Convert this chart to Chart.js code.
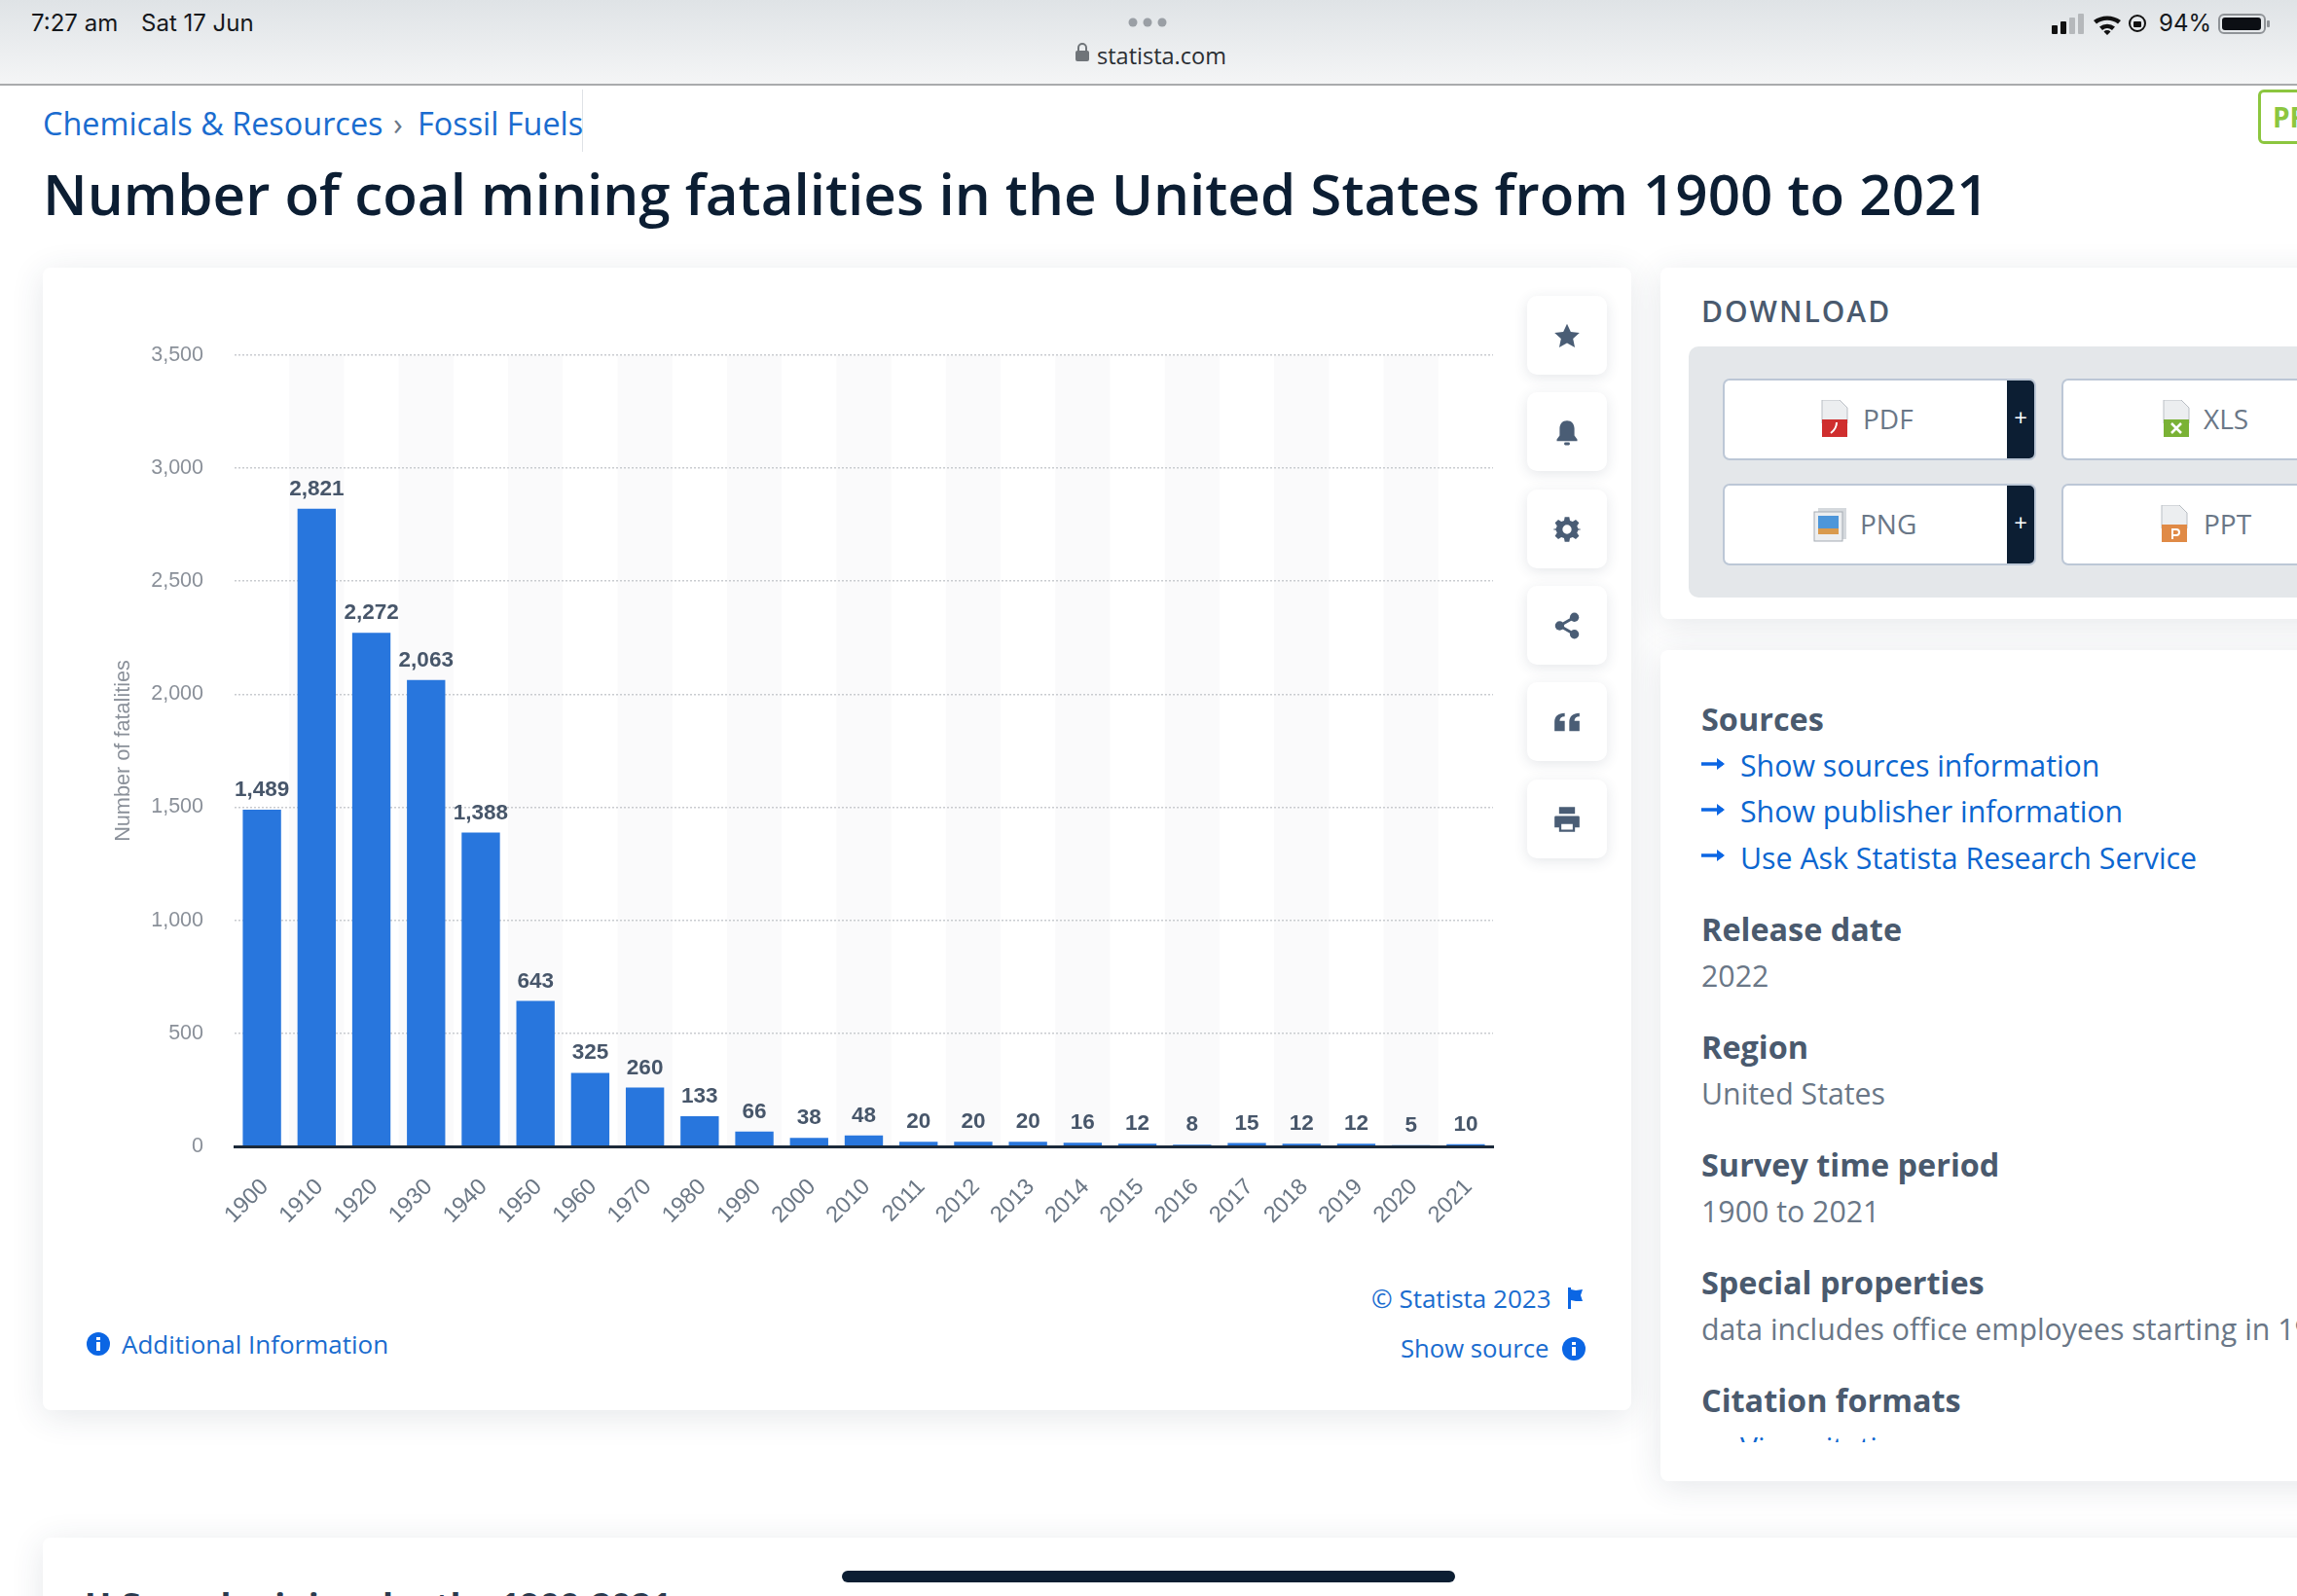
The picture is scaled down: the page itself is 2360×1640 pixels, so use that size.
<!DOCTYPE html>
<html>
<head>
<meta charset="utf-8">
<title>Coal mining fatalities</title>
<script src="https://cdn.jsdelivr.net/npm/chart.js@4"></script>
<style>
  html, body { margin: 0; padding: 0; background: #fff; }
  body { width: 2360px; height: 1640px; position: relative; overflow: hidden; font-family: "Open Sans", sans-serif; }
  .abs { position: absolute; }
  .txt { position: absolute; white-space: nowrap; line-height: 1; }
  .topbar { left: 0; top: 0; width: 2360px; height: 86px; background: linear-gradient(#dfe3e6, #f4f5f6); border-bottom: 2px solid #a9abad; }
  .card { position: absolute; background: #fff; border-radius: 8px; box-shadow: 0 6px 34px rgba(40, 60, 80, .12); }
  .tool { position: absolute; left: 1569px; width: 82px; height: 81px; background: #fff; border-radius: 10px; box-shadow: 0 3px 14px rgba(40, 60, 80, .12); display: flex; align-items: center; justify-content: center; }
  .tool svg { width: 28px; height: 28px; fill: #4a5d75; }
  .btn { position: absolute; width: 318px; height: 80px; background: #fff; border-radius: 5px; box-shadow: 0 0 0 2px #bcc7d6; overflow: hidden; }
  .btn .plus { position: absolute; right: 0; top: 0; width: 28px; height: 80px; background: #0c1e33; color: #fff; font-size: 24px; line-height: 76px; text-align: center; }
  .btn .lbl { position: absolute; top: 0; line-height: 78px; font-size: 28px; color: #6a7787; }
  .btn svg { position: absolute; top: 20px; width: 30px; height: 38px; }
  #chartBox { position: absolute; left: 100px; top: 320px; width: 1460px; height: 981px; }
</style>
</head>
<body>

<div class="abs topbar"></div>
<div class="abs" style="left:2320px;top:92px;width:60px;height:50px;border:3px solid #8cc63f;border-radius:6px;background:#fff"></div>

<div class="card" style="left:44px;top:275px;width:1632px;height:1174px"></div>
<div class="card" style="left:1706px;top:275px;width:700px;height:361px"></div>
<div class="card" style="left:1706px;top:668px;width:700px;height:854px"></div>
<div class="card" style="left:44px;top:1580px;width:2400px;height:100px"></div>

<div class="abs" style="left:1735px;top:356px;width:700px;height:258px;background:#e4e7ea;border-radius:10px"></div>

<div class="btn" style="left:1772px;top:391px">
  <svg style="left:98px" viewBox="0 0 30 38"><path fill="#eceef0" stroke="#b9bec4" d="M2 0h18l8 8v16H2z"/><rect x="2" y="20" width="26" height="18" fill="#cf2e2e"/><path d="M11 34c4-3 6-7 6-11" stroke="#fff" stroke-width="2" fill="none"/></svg>
  <span class="lbl" style="left:142px">PDF</span><div class="plus">+</div>
</div>
<div class="btn" style="left:2120px;top:391px">
  <svg style="left:101px" viewBox="0 0 30 38"><path fill="#eceef0" stroke="#b9bec4" d="M2 0h18l8 8v16H2z"/><rect x="2" y="20" width="26" height="18" fill="#7ab235"/><path d="M10 24l10 10M20 24L10 34" stroke="#fff" stroke-width="2.5"/></svg>
  <span class="lbl" style="left:144px">XLS</span>
</div>
<div class="btn" style="left:1772px;top:499px">
  <svg style="left:91px;width:34px" viewBox="0 0 34 38"><rect x="5" y="3" width="29" height="32" fill="#d5d9dd"/><rect x="1" y="7" width="29" height="30" fill="#eceef0" stroke="#a5abb3"/><rect x="5" y="11" width="21" height="18" fill="#4d96d9"/><rect x="5" y="24" width="21" height="6" fill="#d99a4d"/></svg>
  <span class="lbl" style="left:139px">PNG</span><div class="plus">+</div>
</div>
<div class="btn" style="left:2120px;top:499px">
  <svg style="left:99px" viewBox="0 0 30 38"><path fill="#eceef0" stroke="#b9bec4" d="M2 0h18l8 8v16H2z"/><rect x="2" y="20" width="26" height="18" fill="#e08a46"/><path d="M13 35V25h4a3 3 0 010 6h-4" stroke="#fff" stroke-width="2" fill="none"/></svg>
  <span class="lbl" style="left:144px">PPT</span>
</div>

<div class="tool" style="top:304px"><svg viewBox="0 0 24 24"><path d="M12 1.5l3.3 7 7.7.9-5.7 5.2 1.6 7.6L12 18.400l-6.900 3.800 1.600-7.600L1 9.400l7.700-.9z"/></svg></div>
<div class="tool" style="top:403px"><svg viewBox="0 0 24 24"><path d="M12 2c-4 0-6.500 3-6.500 7v6L3 18.500V20h18v-1.500L18.500 15V9c0-4-2.500-7-6.500-7z"/><rect x="9.500" y="21" width="5" height="2.500" rx="1"/></svg></div>
<div class="tool" style="top:503px"><svg viewBox="0 0 24 24"><path fill-rule="evenodd" d="M10 1h4l.6 3.200 2.400 1 2.700-1.800 2.900 2.900L20.800 9l1 2.400L25 12v0l-3.200.6-1 2.400 1.800 2.700-2.900 2.900-2.700-1.800-2.400 1L14 23h-4l-.6-3.200-2.400-1-2.700 1.800-2.900-2.900L3.200 15l-1-2.400L-1 12l3.200-.6 1-2.400-1.800-2.700 2.900-2.900L7 5.200l2.400-1zM12 8a4 4 0 100 8 4 4 0 000-8z"/></svg></div>
<div class="tool" style="top:602px"><svg viewBox="0 0 24 24"><circle cx="18.500" cy="4.500" r="4"/><circle cx="5.500" cy="12" r="4"/><circle cx="18.500" cy="19.500" r="4"/><path d="M18.500 4.500L5.500 12l13 7.500" stroke="#4a5d75" stroke-width="2.500" fill="none"/></svg></div>
<div class="tool" style="top:701px"><svg viewBox="0 0 24 24"><path d="M1 20v-8c0-5 3-8 9-8v3c-3 0-4.500 1.500-4.500 4H10v9zM14 20v-8c0-5 3-8 9-8v3c-3 0-4.500 1.500-4.500 4H23v9z"/></svg></div>
<div class="tool" style="top:801px"><svg viewBox="0 0 24 24"><path d="M5 1h14v6H5zM2 9h20a1 1 0 011 1v9h-4v4H5v-4H1v-9a1 1 0 011-1zm5 7v5h10v-5z"/></svg></div>

<!-- status bar glyphs -->
<svg class="abs" style="left:2105px;top:12px" width="230" height="26" viewBox="0 0 230 26">
  <rect x="3" y="14" width="6" height="9" rx="1" fill="#111"/><rect x="12" y="10" width="6" height="13" rx="1" fill="#111"/><rect x="21" y="6" width="6" height="17" rx="1" fill="#b5b8bb"/><rect x="30" y="2" width="6" height="21" rx="1" fill="#b5b8bb"/>
  <path d="M46 9a24 24 0 0 1 28 0l-3 3.500a18 18 0 0 0-22 0zM52 15.500a13 13 0 0 1 16 0l-3 3.500a8 8 0 0 0-10 0zM60 24l-3.500-3.500a5 5 0 0 1 7 0z" fill="#111"/>
  <circle cx="91" cy="12" r="8" fill="none" stroke="#111" stroke-width="2"/><rect x="87" y="10" width="8" height="6" rx="1" fill="#111"/>
  <rect x="175" y="3" width="47" height="19" rx="5" fill="none" stroke="#8f9397" stroke-width="2"/><rect x="178" y="6" width="40" height="13" rx="3" fill="#0c0f14"/><rect x="224" y="9" width="3" height="7" rx="1" fill="#8f9397"/>
</svg>
<!-- address bar dots and lock -->
<svg class="abs" style="left:1100px;top:14px" width="110" height="60" viewBox="0 0 110 60">
  <circle cx="64" cy="9" r="4.500" fill="#9a9fa5"/><circle cx="79" cy="9" r="4.500" fill="#9a9fa5"/><circle cx="94" cy="9" r="4.500" fill="#9a9fa5"/>
  <rect x="5" y="38" width="14" height="11" rx="2" fill="#6f7479"/><path d="M8 38v-3a4 4 0 018 0v3" fill="none" stroke="#6f7479" stroke-width="2"/>
</svg>

<div class="abs" style="left:598px;top:92px;width:1px;height:64px;background:#dfe2e6"></div>

<div id="chartBox"><canvas id="chart" width="1460" height="981"></canvas></div>

<!-- link glyphs -->
<svg class="abs" style="left:1748px;top:774px" width="26" height="120" viewBox="0 0 26 120" fill="none" stroke="#0b66e4" stroke-width="3.500">
  <path d="M0 11h22M0 58h22M0 105h22"/><path d="M16 5l8 6-8 6zM16 52l8 6-8 6zM16 99l8 6-8 6z" fill="#0b66e4" stroke="none"/>
</svg>
<svg class="abs" style="left:88px;top:1368px" width="26" height="26" viewBox="0 0 26 26"><circle cx="13" cy="13" r="12" fill="#0b66e4"/><rect x="11" y="11" width="4" height="9" fill="#fff"/><rect x="11" y="6" width="4" height="3" fill="#fff"/></svg>
<svg class="abs" style="left:1604px;top:1373px" width="26" height="26" viewBox="0 0 26 26"><circle cx="13" cy="13" r="12" fill="#0b66e4"/><rect x="11" y="11" width="4" height="9" fill="#fff"/><rect x="11" y="6" width="4" height="3" fill="#fff"/></svg>
<svg class="abs" style="left:1610px;top:1323px" width="18" height="22" viewBox="0 0 18 22"><path d="M1 0h3v22H1zM4 2l5 1 7-1-2 6 2 6H9l-5-1z" fill="#0b66e4"/></svg>

<div class="abs" id="clip" style="left:1700px;top:1420px;width:660px;height:62px;overflow:hidden"></div>
<div class="abs" style="left:865px;top:1614px;width:630px;height:12px;border-radius:6px;background:#0c1e33;z-index:5"></div>

<script>
// Fatalities per year
const years = ['1900', '1910', '1920', '1930', '1940', '1950', '1960', '1970', '1980', '1990', '2000', '2010',
    '2011', '2012', '2013', '2014', '2015', '2016', '2017', '2018', '2019', '2020', '2021'];
const fatalities = [1489, 2821, 2272, 2063, 1388, 643, 325, 260, 133, 66, 38, 48,
    20, 20, 20, 16, 12, 8, 15, 12, 12, 5, 10];
const yAxisMax = 3500;
const yAxisStep = 500;
const yAxisTitle = 'Number of fatalities';

const FONT_SANS = '"Liberation Sans", Arial, sans-serif';

// Page text: [text, left, centre y, size, weight, colour]
const pageTexts = [
    ['7:27 am', 32, 24, 24, 400, '#15181c'],
    ['Sat 17 Jun', 145, 24, 24, 400, '#15181c'],
    ['statista.com', 1127, 58, 23.5, 400, '#2a2e33'],
    ['94%', 2218, 24, 24, 400, '#15181c'],
    ['PR', 2335, 120, 28, 700, '#8cc63f'],
    ['Chemicals & Resources', 44, 126, 32.4, 400, '#1a6ccf'],
    ['›', 404, 126, 32.4, 400, '#6a7787'],
    ['Fossil Fuels', 429, 126, 32.4, 400, '#1a6ccf'],
    ['Number of coal mining fatalities in the United States from 1900 to 2021', 44, 199, 58.3, 600, '#0c1e33'],
    ['DOWNLOAD', 1748, 320, 30, 600, '#4a5a6e'],
    ['© Statista 2023', 1409, 1334, 26, 400, '#1a6ccf'],
    ['Show source', 1439, 1386, 25.7, 400, '#1a6ccf'],
    ['Additional Information', 125, 1381, 26, 400, '#1a6ccf'],
    ['Sources', 1748, 738, 32.4, 700, '#4a5a6e'],
    ['Show sources information', 1788, 787, 30.3, 400, '#0b66d0'],
    ['Show publisher information', 1788, 834, 30.3, 400, '#0b66d0'],
    ['Use Ask Statista Research Service', 1788, 882, 30.3, 400, '#0b66d0'],
    ['Release date', 1748, 954, 32.4, 700, '#4a5a6e'],
    ['2022', 1748, 1003, 30.3, 400, '#6a7787'],
    ['Region', 1748, 1075, 32.4, 700, '#4a5a6e'],
    ['United States', 1748, 1124, 30.3, 400, '#6a7787'],
    ['Survey time period', 1748, 1196, 32.4, 700, '#4a5a6e'],
    ['1900 to 2021', 1748, 1245, 30.3, 400, '#6a7787'],
    ['Special properties', 1748, 1317, 32.4, 700, '#4a5a6e'],
    ['data includes office employees starting in 1973', 1748, 1366, 30.3, 400, '#6a7787'],
    ['Citation formats', 1748, 1438, 32.4, 700, '#4a5a6e'],
    ['U.S. coal mining deaths 1900-2021', 87, 1650, 36, 700, '#2a3a4e']
];

pageTexts.forEach(([text, left, cy, size, weight, color]) => {
    const el = document.createElement('div');
    el.className = 'txt';
    el.textContent = text;
    el.style.cssText = `left:${left}px;top:${cy - size / 2}px;font-size:${size}px;font-weight:${weight};color:${color}`;
    if (text === 'DOWNLOAD') el.style.letterSpacing = '2px';
    if (text === '7:27 am' || text === 'Sat 17 Jun' || text === '94%') el.style.fontFamily = 'Inter';
    document.body.appendChild(el);
});

// Partly hidden link under the last heading
const clipped = document.createElement('div');
clipped.className = 'txt';
clipped.textContent = 'View citation';
clipped.style.cssText = 'left:88px;top:52px;font-size:30px;color:#0b66d0';
document.getElementById('clip').appendChild(clipped);

// Light bands behind every other category
const bandPlugin = {
    id: 'bands',
    beforeDraw(chart) {
        const { ctx, scales: { x, y } } = chart;
        const step = x.getPixelForValue(1) - x.getPixelForValue(0);
        ctx.save();
        ctx.fillStyle = '#fafafb';
        years.forEach((year, i) => {
            if (i % 2 === 1) {
                ctx.fillRect(x.getPixelForValue(i) - step / 2, y.top, step, y.bottom - y.top);
            }
        });
        ctx.restore();
    }
};

// Value on top of each bar
const valueLabelPlugin = {
    id: 'valueLabels',
    afterDatasetsDraw(chart) {
        const { ctx } = chart;
        ctx.save();
        ctx.font = `bold 22.500px ${FONT_SANS}`;
        ctx.fillStyle = '#47566a';
        ctx.textAlign = 'center';
        ctx.textBaseline = 'alphabetic';
        chart.getDatasetMeta(0).data.forEach((bar, i) => {
            ctx.fillText(fatalities[i].toLocaleString('en-US'), bar.x, bar.y - 14);
        });
        ctx.restore();
    }
};

new Chart(document.getElementById('chart'), {
    type: 'bar',
    data: {
        labels: years,
        datasets: [{
            data: fatalities,
            backgroundColor: '#2876dd',
            categoryPercentage: 0.7,
            barPercentage: 1
        }]
    },
    plugins: [bandPlugin, valueLabelPlugin],
    options: {
        responsive: false,
        animation: false,
        layout: { padding: { top: 22, right: 26, left: 0, bottom: 0 } },
        plugins: {
            legend: { display: false },
            tooltip: { enabled: false }
        },
        scales: {
            x: {
                afterFit: (scale) => { scale.height = 123; },
                grid: { display: false, drawTicks: false },
                border: { display: true, color: '#1c2a3a', width: 3, z: 1 },
                ticks: {
                    autoSkip: false,
                    minRotation: 45,
                    maxRotation: 45,
                    padding: 28,
                    labelOffset: 3,
                    color: '#6b7785',
                    font: { family: FONT_SANS, size: 23.500 }
                }
            },
            y: {
                min: 0,
                max: yAxisMax,
                afterFit: (scale) => { scale.width = 141; },
                grid: { color: '#c9ccd0', lineWidth: 1.500, drawTicks: false },
                border: { display: false, dash: [2, 2] },
                ticks: {
                    stepSize: yAxisStep,
                    padding: 32,
                    color: '#8a9099',
                    font: { family: FONT_SANS, size: 21.500 },
                    callback: (value) => value.toLocaleString('en-US')
                },
                title: {
                    display: true,
                    text: yAxisTitle,
                    color: '#8a9099',
                    padding: { top: 14, bottom: 0 },
                    font: { family: FONT_SANS, size: 21.700 }
                }
            }
        }
    }
});
</script>
</body>
</html>
